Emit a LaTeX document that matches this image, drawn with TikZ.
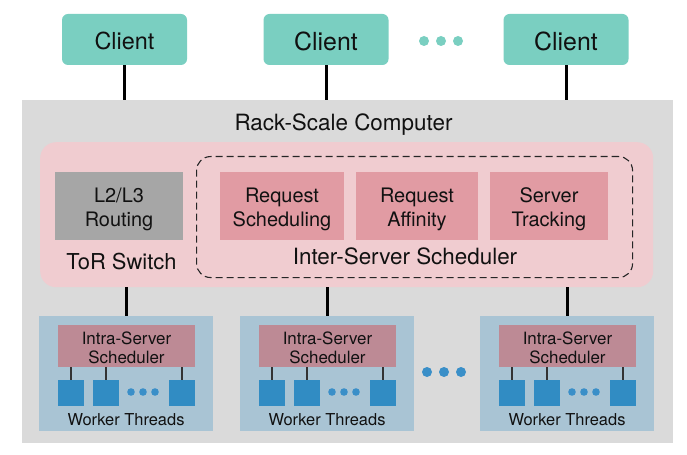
\documentclass[tikz,border=0pt]{standalone}
\usepackage{fontspec}
\setmainfont{TeX Gyre Heros}
\definecolor{clientc}{HTML}{7ACFC1}
\definecolor{rackc}{HTML}{DADADA}
\definecolor{pinkc}{HTML}{F0CCD0}
\definecolor{routec}{HTML}{A6A6A6}
\definecolor{reqc}{HTML}{E19BA3}
\definecolor{serverc}{HTML}{A9C4D4}
\definecolor{schedc}{HTML}{BD8A95}
\definecolor{workc}{HTML}{318CC3}
\definecolor{dotc}{HTML}{3A8FC8}
\definecolor{txtc}{HTML}{111111}
\tikzset{
  fs/.style={font=\fontsize{#1}{#1}\selectfont},
  clientbox/.style={fill=clientc, draw=none, rounded corners=6bp, minimum width=125bp, minimum height=51bp, inner sep=0pt},
  graybox/.style={fill=routec, draw=none, minimum width=128bp, minimum height=68bp, inner sep=0pt},
  reqbox/.style={fill=reqc, draw=none, minimum height=68bp, inner sep=0pt},
  boxtext/.style={inner sep=0pt, align=center, text=txtc, font=\fontsize{20}{24}\selectfont},
  serverbox/.style={fill=serverc, draw=none, minimum width=174bp, minimum height=115bp, inner sep=0pt},
  schedbox/.style={fill=schedc, draw=none, minimum width=137bp, minimum height=42bp, inner sep=0pt},
  schedtext/.style={inner sep=0pt, align=center, text=txtc, font=\fontsize{17}{19.5}\selectfont},
  workbox/.style={fill=workc, draw=none, minimum width=26.5bp, minimum height=26.5bp, inner sep=0pt},
  label/.style={inner sep=0pt, text=txtc},
  wire/.style={line width=3bp, black},
  stub/.style={line width=1.2bp, black!80},
}
\begin{document}
\begin{tikzpicture}[x=1bp,y=-1bp]
\useasboundingbox (0,0) rectangle (687,455);
% clients
\node[clientbox] (c1) at (124.5,39.5) {};
\node[clientbox] (c2) at (326,39.5) {};
\node[clientbox] (c3) at (566,39.5) {};
\node[label, fs=23.5] (c1t) at (124.5,41) {Client};
\node[label, fs=25] (c2t) at (326,41.5) {Client};
\node[label, fs=25] (c3t) at (566,41.5) {Client};
\foreach \x [count=\k] in {424,441,458} \fill[clientc] (\x,41) circle (5bp) coordinate (cd\k);
% rack
\node[fill=rackc, draw=none, minimum width=651bp, minimum height=343bp, inner sep=0pt, anchor=north west] (rack) at (22,100) {};
\node[label, fs=22.5] (racklbl) at (343.5,125) {Rack-Scale Computer};
% pink
\node[fill=pinkc, draw=none, rounded corners=16bp, minimum width=613bp, minimum height=145bp, inner sep=0pt, anchor=north west] (pink) at (40,142) {};
\node[draw=black!85, dash pattern=on 7bp off 4bp, line width=1.1bp, rounded corners=14bp, minimum width=436bp, minimum height=121bp, inner sep=0pt, anchor=north west] (inter) at (196,156) {};
\node[graybox] (route) at (119,206) {};
\node[boxtext] (routet) at (119,209) {L2/L3\\Routing};
\node[label, fs=22] (tor) at (121.5,262) {ToR Switch};
\node[reqbox, minimum width=124bp] (rs) at (282,206) {};
\node[reqbox, minimum width=122bp] (ra) at (417,206) {};
\node[reqbox, minimum width=118bp] (st) at (549,206) {};
\node[boxtext] (rst) at (282,209.5) {Request\\Scheduling};
\node[boxtext] (rat) at (417,209.5) {Request\\Affinity};
\node[boxtext] (stt) at (549,209.5) {Server\\Tracking};
\node[label, fs=22.5] (interlbl) at (405,256) {Inter-Server Scheduler};
% client wires
\draw[wire] (c1.south) -- (c1.south |- rack.north);
\draw[wire] (c2.south) -- (c2.south |- rack.north);
\draw[wire] (c3.south) -- (c3.south |- rack.north);
% servers
\foreach \i/\L in {1/39,2/240,3/480}{
  \node[serverbox, anchor=north west] (s\i) at (\L,316) {};
  \node[schedbox] (sch\i) at (\L+87.5,346) {};
  \node[schedtext] (scht\i) at (\L+87.5,348) {Intra-Server\\Scheduler};
  \node[workbox] (wa\i) at (\L+32,393) {};
  \node[workbox] (wb\i) at (\L+67,393) {};
  \node[workbox] (wc\i) at (\L+143,393) {};
  \foreach \dx in {92,104,116} \fill[dotc] (\L+\dx,392) circle (3.8bp);
  \node[label, fs=16.5] (wt\i) at (\L+87,419.5) {Worker Threads};
  \draw[stub] (wa\i.north) -- (wa\i.north |- sch\i.south);
  \draw[stub] (wb\i.north) -- (wb\i.north |- sch\i.south);
  \draw[stub] (wc\i.north) -- (wc\i.north |- sch\i.south);
  \draw[wire] (s\i.north |- pink.south) -- (s\i.north);
}
\foreach \x in {427,444,461} \fill[dotc] (\x,372) circle (5bp);
\end{tikzpicture}
\end{document}
